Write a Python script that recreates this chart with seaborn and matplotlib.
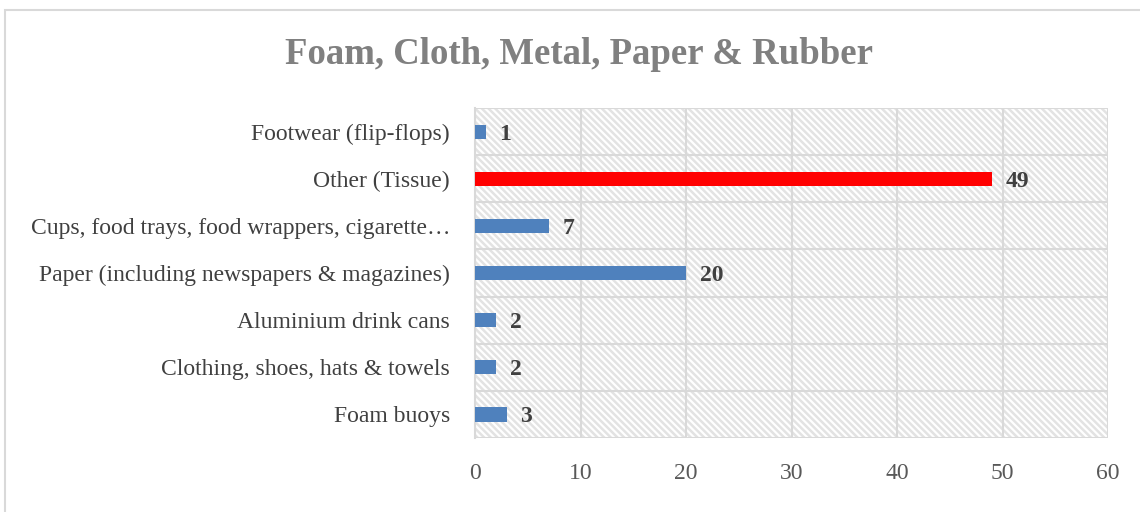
import matplotlib
matplotlib.use("Agg")
import matplotlib.pyplot as plt
from matplotlib.patches import Rectangle
import seaborn as sns
import pandas as pd

categories = [
    "Footwear (flip-flops)",
    "Other (Tissue)",
    "Cups, food trays, food wrappers, cigarette\u2026",
    "Paper (including newspapers & magazines)",
    "Aluminium drink cans",
    "Clothing, shoes, hats & towels",
    "Foam buoys",
]
counts = [1, 49, 7, 20, 2, 2, 3]
bar_colors = ["#4F81BD", "#FF0000", "#4F81BD", "#4F81BD", "#4F81BD", "#4F81BD", "#4F81BD"]

df = pd.DataFrame({"item": categories, "count": counts})

sns.set_style("white")
plt.rcParams["font.family"] = ["Liberation Serif", "DejaVu Serif"]
plt.rcParams["hatch.linewidth"] = 1.8

fig = plt.figure(figsize=(11.4, 5.12), dpi=100)
ax = fig.add_axes([0.4167, 0.1445, 0.5553, 0.6445])

# light outer frame of the chart
fig.patches.append(Rectangle((0.004, -0.05), 1.2, 1.03, transform=fig.transFigure,
                             fill=False, edgecolor="#D9D9D9", linewidth=1.5, zorder=0))

# hatched plot area
ax.add_patch(Rectangle((0, 0), 1, 1, transform=ax.transAxes, facecolor="white",
                       edgecolor="#E3E3E3", hatch="\\\\\\\\\\", linewidth=0, zorder=0))

sns.barplot(data=df, x="count", y="item", hue="item", palette=bar_colors,
            legend=False, width=0.3, orient="h", ax=ax, zorder=3, saturation=1,
            linewidth=0)

for i, v in enumerate(counts):
    ax.text(v + 1.3, i, str(v), va="center_baseline", ha="left", fontsize=17,
            fontweight="bold", color="#404040")

ax.set_xlim(0, 60)
ax.set_ylim(len(categories) - 0.5, -0.5)
ax.set_xticks(range(0, 61, 10))
ax.set_yticks(range(len(categories)))
ax.set_yticks([i - 0.5 for i in range(len(categories) + 1)], minor=True)
ax.grid(True, which="minor", axis="y", color="#D9D9D9", linewidth=1.5, zorder=1)
ax.grid(True, which="major", axis="x", color="#D9D9D9", linewidth=1.5, zorder=1)
ax.grid(False, which="major", axis="y")
ax.set_axisbelow(True)
ax.tick_params(axis="y", which="major", length=0, pad=18, labelsize=17, labelcolor="#404040")
ax.tick_params(axis="y", which="minor", length=5, color="#D9D9D9", width=1.5)
ax.tick_params(axis="x", length=0, pad=18, labelsize=17, labelcolor="#595959")
for s in ax.spines.values():
    s.set_visible(False)
ax.spines["left"].set_visible(True)
ax.spines["left"].set_color("#D9D9D9")
ax.spines["left"].set_linewidth(1.5)
ax.set_xlabel("")
ax.set_ylabel("")

fig.text(0.508, 0.893, "Foam, Cloth, Metal, Paper & Rubber", ha="center", va="center",
         fontsize=26.5, fontweight="bold", color="#808080")

fig.savefig("out.png", dpi=100)
